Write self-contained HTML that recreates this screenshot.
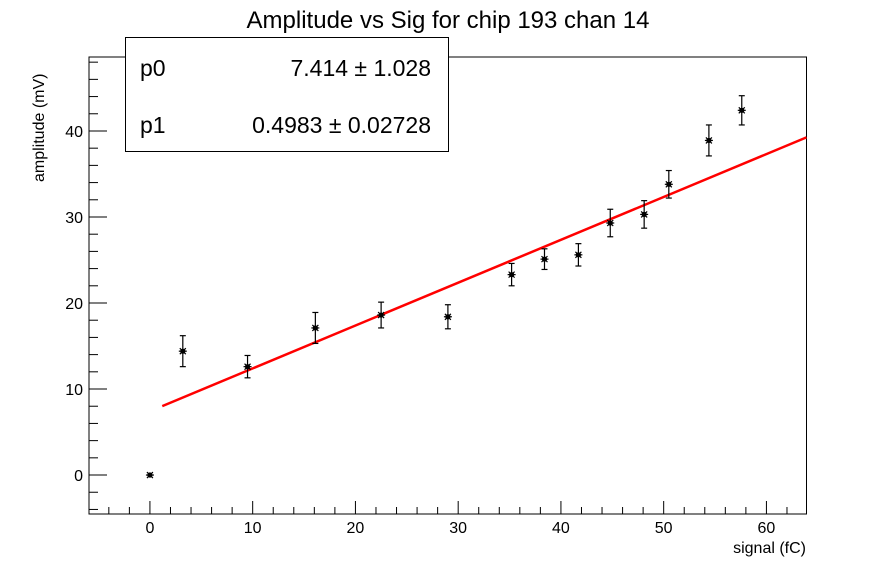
<!DOCTYPE html>
<html><head><meta charset="utf-8"><style>
html,body{margin:0;padding:0;background:#fff;}
svg{display:block;font-family:"Liberation Sans",Arial,sans-serif;}
</style></head><body>
<svg id="chart" width="896" height="572" viewBox="0 0 896 572">
<text x="448" y="28" text-anchor="middle" font-size="24">Amplitude vs Sig for chip 193 chan 14</text>
<rect x="89" y="57" width="717.5" height="457" fill="none" stroke="#000" stroke-width="1"/>
<g id="axes"></g>
<g id="fit"></g>
<g id="points"></g>
<text x="806" y="553" text-anchor="end" font-size="16">signal (fC)</text>
<text transform="translate(44,182) rotate(-90)" text-anchor="start" font-size="16">amplitude (mV)</text>
<g>
<rect x="125.5" y="37.5" width="323" height="114" fill="#fff" stroke="#000" stroke-width="1"/>
<text x="140" y="76" font-size="23">p0</text>
<text x="431" y="76" font-size="23" text-anchor="end">7.414 ± 1.028</text>
<text x="140" y="133" font-size="23">p1</text>
<text x="431" y="133" font-size="23" text-anchor="end">0.4983 ± 0.02728</text>
</g>
</svg>
<script>
const xs = [0, 3.2, 9.5, 16.1, 22.5, 29.0, 35.2, 38.4, 41.7, 44.8, 48.1, 50.5, 54.4, 57.6];
const ys = [0, 14.4, 12.6, 17.1, 18.6, 18.4, 23.3, 25.1, 25.6, 29.3, 30.3, 33.8, 38.9, 42.4];
const errs = [0, 1.8, 1.3, 1.8, 1.5, 1.4, 1.3, 1.2, 1.3, 1.6, 1.6, 1.6, 1.8, 1.7];
const fitParams = [7.414, 0.4983];
const fitRange = [1.2, 63.9];
const xTicks = [0, 10, 20, 30, 40, 50, 60];
const yTicks = [0, 10, 20, 30, 40];

const NS = "http://www.w3.org/2000/svg";
const X0 = 89, X1 = 806.5, Y0 = 514, Y1 = 57;
const xmin = -5.93, xmax = 63.9, ymin = -4.53, ymax = 48.6;
function sx(v){ return X0 + (v - xmin) / (xmax - xmin) * (X1 - X0); }
function sy(v){ return Y0 - (v - ymin) / (ymax - ymin) * (Y0 - Y1); }
function mk(tag, attrs, parent){ const e = document.createElementNS(NS, tag); for (const k in attrs) e.setAttribute(k, attrs[k]); parent.appendChild(e); return e; }

const axes = document.getElementById('axes');
// x ticks
for (let v = -4; v <= 62; v += 2) {
  const major = v % 10 === 0;
  const t = mk('line', {x1: sx(v), x2: sx(v), y1: Y0, y2: Y0 - (major ? 13 : 7), stroke: '#000', 'stroke-width': 1}, axes);
  
  
}
xTicks.forEach(v => {
  const t = mk('text', {x: sx(v), y: 533, 'text-anchor': 'middle', 'font-size': 16}, axes);
  t.textContent = v;
  
  
});
// y ticks
for (let v = -4; v <= 48; v += 2) {
  const major = v % 10 === 0;
  const t = mk('line', {x1: X0, x2: X0 + (major ? 18 : 9), y1: sy(v), y2: sy(v), stroke: '#000', 'stroke-width': 1}, axes);
  
  
}
yTicks.forEach(v => {
  const t = mk('text', {x: 83, y: sy(v) + 6, 'text-anchor': 'end', 'font-size': 16}, axes);
  t.textContent = v;
  
  
});

// fit line
const fitG = document.getElementById('fit');
const fl = mk('line', {x1: sx(fitRange[0]), y1: sy(fitParams[0] + fitParams[1] * fitRange[0]), x2: sx(fitRange[1]), y2: sy(fitParams[0] + fitParams[1] * fitRange[1]), stroke: '#ff0000', 'stroke-width': 2.5}, fitG);



// points
const pg = document.getElementById('points');
xs.forEach((x, i) => {
  const cx = sx(x), cy = sy(ys[i]);
  const g = mk('g', {stroke: '#000', 'stroke-width': 1.2}, pg);
  
  
  if (errs[i] > 0) {
    const top = sy(ys[i] + errs[i]), bot = sy(ys[i] - errs[i]);
    mk('line', {x1: cx, x2: cx, y1: top, y2: bot}, g);
    mk('line', {x1: cx - 3, x2: cx + 3, y1: top, y2: top}, g);
    mk('line', {x1: cx - 3, x2: cx + 3, y1: bot, y2: bot}, g);
  }
  mk('line', {x1: cx - 4, x2: cx + 4, y1: cy, y2: cy}, g);
  mk('line', {x1: cx - 3, x2: cx + 3, y1: cy - 3, y2: cy + 3}, g);
  mk('line', {x1: cx - 3, x2: cx + 3, y1: cy + 3, y2: cy - 3}, g);
  mk('circle', {cx: cx, cy: cy, r: 2, fill: '#000'}, g);
});
</script>
</body></html>
